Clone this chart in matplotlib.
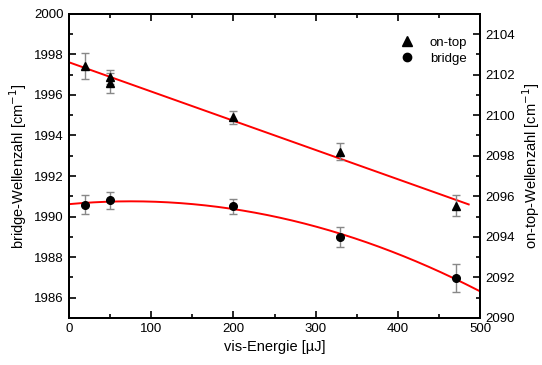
import numpy as np
import matplotlib
matplotlib.use("Agg")
import matplotlib.pyplot as plt
from matplotlib.ticker import MultipleLocator

plt.rcParams["font.family"] = ["Liberation Sans", "DejaVu Sans"]

# on-top band (right axis)
ontop_x = [20, 50, 50, 200, 330, 470]
ontop_y = [2102.42, 2101.88, 2101.58, 2099.89, 2098.21, 2095.54]
ontop_err = [0.64, 0.35, 0.5, 0.3, 0.4, 0.53]

# bridge band (left axis)
bridge_x = [20, 50, 200, 330, 470]
bridge_y = [1990.59, 1990.80, 1990.50, 1988.99, 1986.97]
bridge_err = [0.48, 0.43, 0.35, 0.5, 0.71]

fig = plt.figure(figsize=(5.42, 3.65), dpi=100)
ax = fig.add_axes([0.127, 0.129, 0.759, 0.833])
ax2 = ax.twinx()

# fits: linear for on-top, quadratic for bridge
p_top = np.polyfit(ontop_x, ontop_y, 1)
p_br = np.polyfit(bridge_x, bridge_y, 2)
xt = np.linspace(0, 486, 100)
xb = np.linspace(0, 500, 200)
ax2.plot(xt, np.polyval(p_top, xt), color="red", lw=1.4, zorder=2)
ax.plot(xb, np.polyval(p_br, xb), color="red", lw=1.4, zorder=2)

ax2.errorbar(ontop_x, ontop_y, yerr=ontop_err, fmt="^", color="black", ms=6,
             ecolor="#888888", elinewidth=1, capsize=3, capthick=1, zorder=3)
ax.errorbar(bridge_x, bridge_y, yerr=bridge_err, fmt="o", color="black", ms=5.5,
            ecolor="#888888", elinewidth=1, capsize=3, capthick=1, zorder=3)

ax.set_xlim(0, 500)
ax.set_ylim(1985, 2000)
ax2.set_ylim(2090, 2105)

ax.xaxis.set_major_locator(MultipleLocator(100))
ax.xaxis.set_minor_locator(MultipleLocator(50))
ax.yaxis.set_major_locator(MultipleLocator(2))
ax.yaxis.set_minor_locator(MultipleLocator(1))
ax2.yaxis.set_major_locator(MultipleLocator(2))
ax2.yaxis.set_minor_locator(MultipleLocator(1))

ax.tick_params(which="both", direction="in", top=True, right=False, labelsize=9.5)
ax.tick_params(which="major", length=5, width=1.2)
ax.tick_params(which="minor", length=3, width=1.2)
ax2.tick_params(which="both", direction="in", labelsize=9.5)
ax2.tick_params(which="major", length=5, width=1.2)
ax2.tick_params(which="minor", length=3, width=1.2)
for a in (ax, ax2):
    for s in a.spines.values():
        s.set_linewidth(1.4)

ax.set_xlabel("vis-Energie [µJ]", fontsize=10.5)
ax.set_ylabel("bridge-Wellenzahl [cm$^{-1}$]", fontsize=10.5)
ax2.set_ylabel("on-top-Wellenzahl [cm$^{-1}$]", fontsize=10.5, rotation=90)

# legend
ax2.plot([], [], "^", color="black", ms=6.5, label="on-top")
ax2.plot([], [], "o", color="black", ms=6, label="bridge")
ax2.legend(loc="upper right", frameon=False, fontsize=9.5, handletextpad=0.7,
           labelspacing=0.3, bbox_to_anchor=(0.997, 0.965))

fig.savefig("out.png", dpi=100)
